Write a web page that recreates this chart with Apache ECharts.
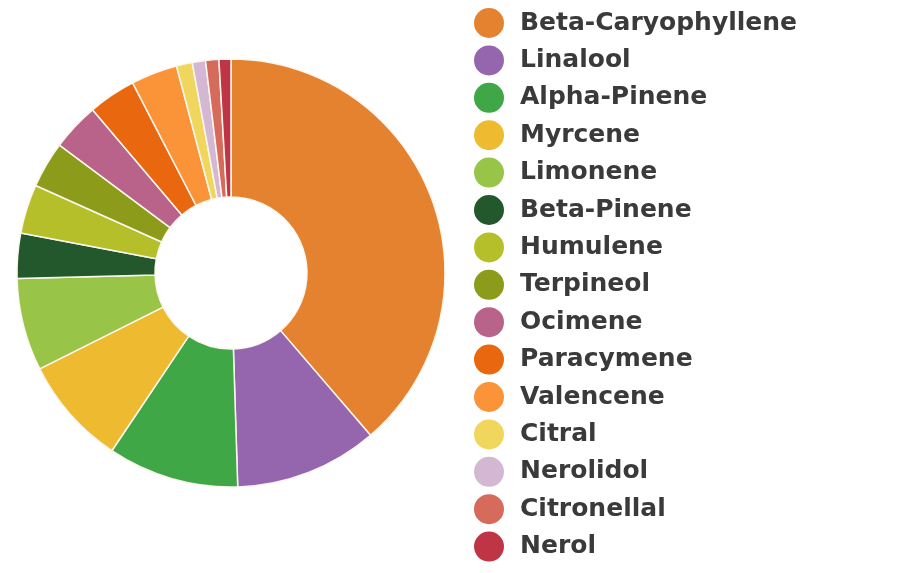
<!DOCTYPE html>
<html><head><meta charset="utf-8">
<script src="https://cdn.jsdelivr.net/npm/echarts@6/dist/echarts.min.js"></script>
<style>html,body{margin:0;padding:0;background:#fff}#c{width:900px;height:573px}</style>
</head><body><div id="c"></div>
<script>
const categories = ["Beta-Caryophyllene","Linalool","Alpha-Pinene","Myrcene","Limonene","Beta-Pinene","Humulene","Terpineol","Ocimene","Paracymene","Valencene","Citral","Nerolidol","Citronellal","Nerol"];
const values = [38.7,10.8,9.9,8.2,7.0,3.4,3.7,3.5,3.6,3.6,3.5,1.2,1.0,1.0,0.9];
const colors = ["#E5822F","#9565AE","#3FA745","#EDBA30","#98C548","#23582C","#B5BF2A","#8C9C1A","#B9628A","#E9670F","#FB9339","#F0D65C","#D4B8D3","#D66A5B","#C03545"];

const chart = echarts.init(document.getElementById('c'), null, {renderer:'canvas'});
chart.setOption({
  animation:false,
  color: colors,
  legend: {
    orient:'vertical', left:474, top:8, height:565, padding:0,
    itemWidth:30, itemHeight:30, itemGap:7.4, icon:'circle',
    itemStyle:{borderWidth:0},
    textStyle:{fontFamily:'DejaVu Sans', fontWeight:'bold', fontSize:25, lineHeight:30, color:'#3a3a3a', padding:[0,0,0,11]},
    data: categories
  },
  series:[{
    type:'pie', center:[231,273], radius:[76,214], startAngle:90,
    label:{show:false}, labelLine:{show:false},
    itemStyle:{borderColor:'#fbf7ee', borderWidth:1.5},
    emphasis:{disabled:true},
    data: categories.map((n,i)=>({name:n, value:values[i]}))
  }]
});
</script></body></html>
